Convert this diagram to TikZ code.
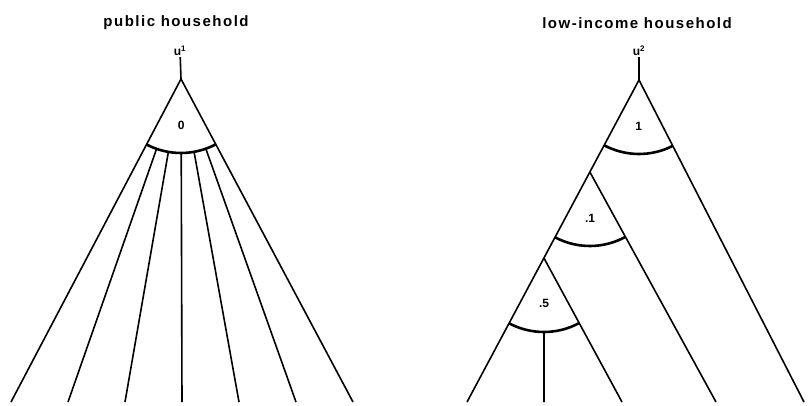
\documentclass[tikz,border=0pt]{standalone}
\usepackage{fontspec}
\setmainfont{Liberation Sans}
\newfontfamily\titlefont[LetterSpace=10]{Liberation Sans}
\usetikzlibrary{angles,calc}
\begin{document}
\begin{tikzpicture}[x=1pt,y=1pt,
    branch/.style={line width=1.6pt},
    nest/.style={draw,line width=2.6pt,angle radius=74pt,angle eccentricity=0.62,
      pic text options={font=\bfseries\fontsize{12}{14}\selectfont}},
    title/.style={font=\titlefont\bfseries\fontsize{15}{17}\selectfont},
    share/.style={font=\bfseries\fontsize{12}{14}\selectfont,inner sep=1pt}]
    \useasboundingbox (0,0) rectangle (808,405);

    % Public household
    \node[title] (ptitle) at (176,382) {public household};
    \node[share] (pu) at (180,354) {u\textsuperscript{1}};
    \coordinate (pA) at (181,326);
    \draw[branch] (pu) -- (pA);
    \foreach \x [count=\i] in {11,68,125,182,239,296,353}
        \coordinate (p\i) at (\x,3);
    \draw[branch] (p1) -- (pA) -- (p7);
    \pic[nest, pic text=0] {angle=p1--pA--p7};
    \foreach \i in {2,...,6}
        \draw[branch] ($(pA)!74pt!(p\i)$) -- (p\i);

    % Low-income household
    \node[title] (ltitle) at (637,382) {low-income household};
    \node[share] (lu) at (639,354) {u\textsuperscript{2}};
    \coordinate (lA) at (639,325);
    \coordinate (l0) at (467,3);
    \coordinate (l1) at (544,3);
    \coordinate (l2) at (622,3);
    \coordinate (l3) at (716,3);
    \coordinate (l4) at (804,3);
    \coordinate (lB) at ($(lA)!0.2857!(l0)$);
    \coordinate (lC) at ($(lA)!0.5528!(l0)$);
    \draw[branch] (lu) -- (lA);
    \draw[branch] (l0) -- (lA) -- (l4);
    \draw[branch] (lB) -- (l3);
    \draw[branch] (lC) -- (l2);
    \pic[nest, pic text=1] {angle=l0--lA--l4};
    \pic[nest, pic text=.1] {angle=l0--lB--l3};
    \pic[nest, pic text=.5] {angle=l0--lC--l2};
    \draw[branch] ($(lC)!74pt!(l1)$) -- (l1);
\end{tikzpicture}
\end{document}
